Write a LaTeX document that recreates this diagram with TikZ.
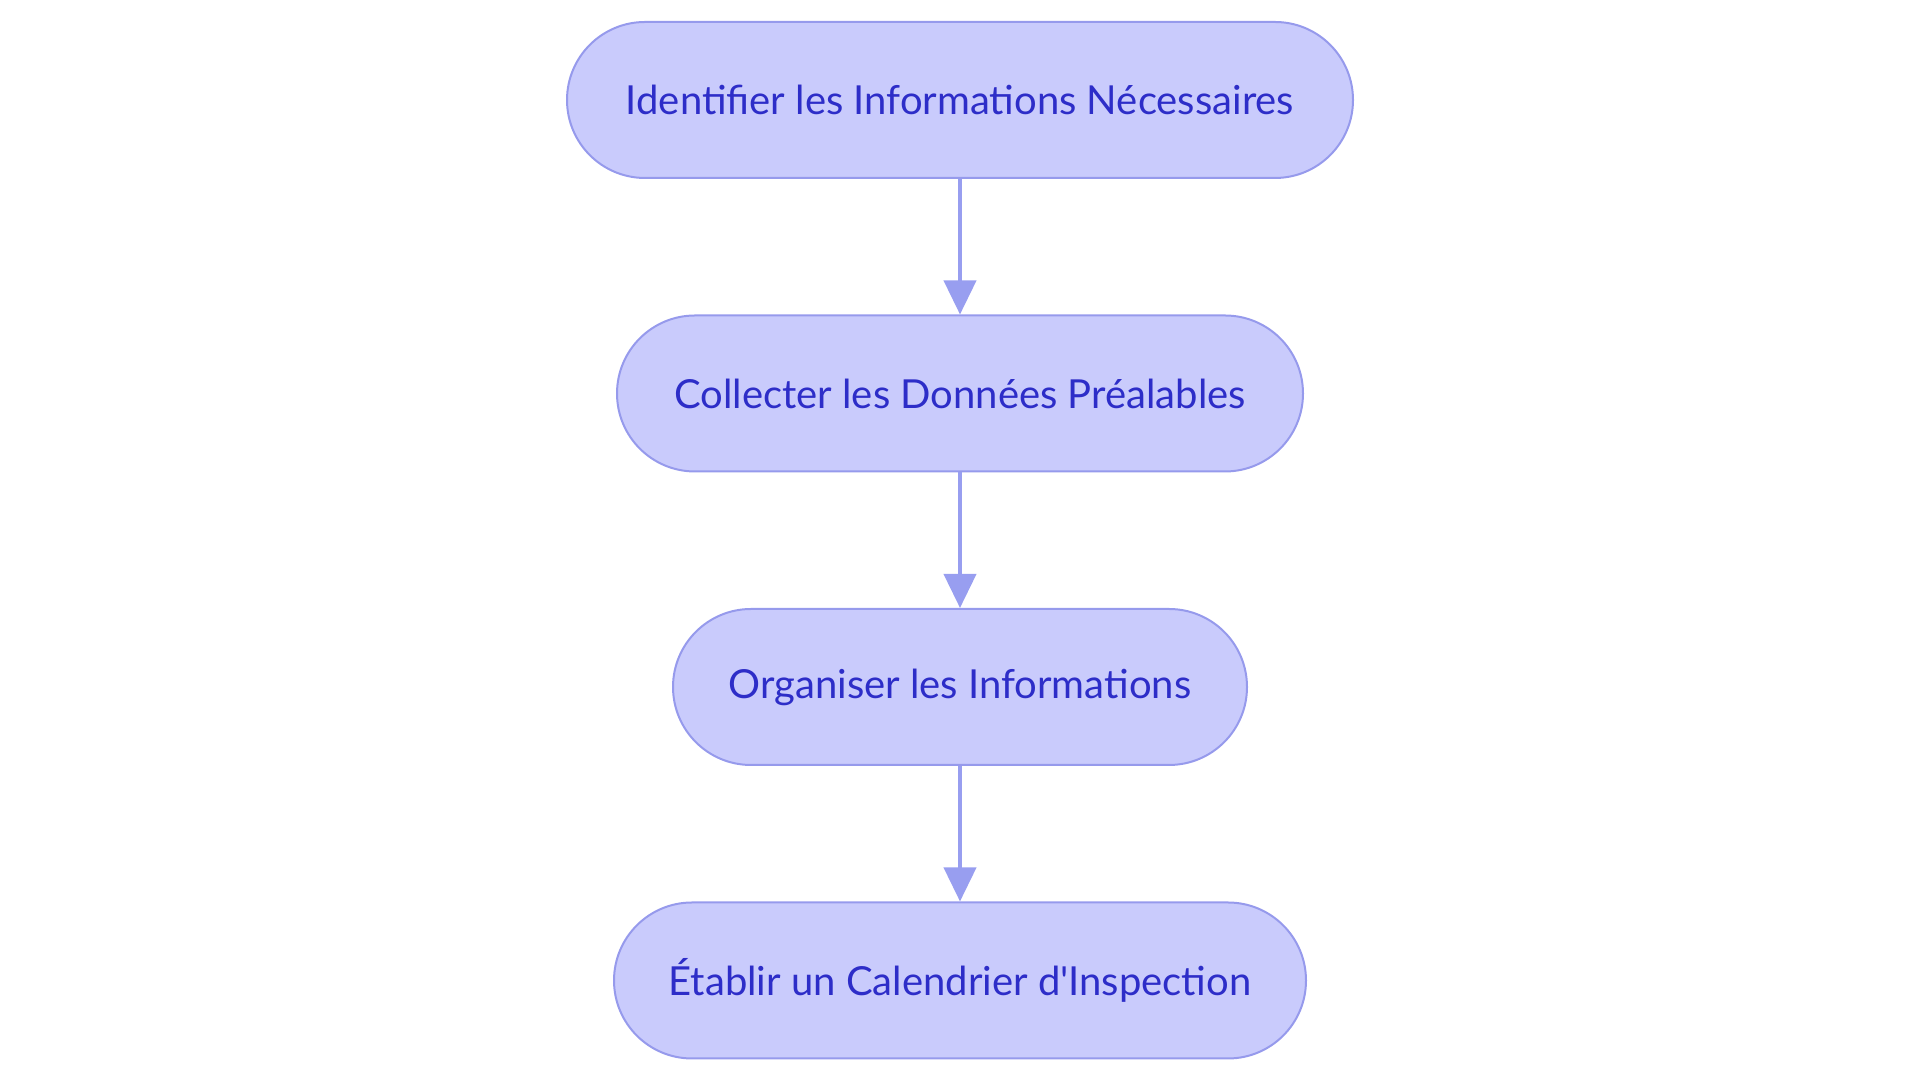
\documentclass[tikz,border=0pt]{standalone}
\usepackage{fontspec}
\newfontfamily\etapefont{Lato}
\usepackage{tikz}
\usetikzlibrary{positioning,arrows.meta}

\definecolor{boxfill}{RGB}{201,203,252}
\definecolor{boxline}{RGB}{150,154,236}
\definecolor{boxtext}{RGB}{45,45,200}
\definecolor{arrowcol}{RGB}{152,158,240}

\tikzset{
  etape/.style={draw=boxline, line width=2pt, fill=boxfill, text=boxtext,
    minimum height=156pt, rounded corners=78pt, inner sep=0pt,
    font=\etapefont\fontsize{40}{48}\selectfont},
  fleche/.style={draw=arrowcol, line width=4pt, -{Triangle[length=34pt,width=32pt]}}
}

\begin{document}
\begin{tikzpicture}[x=1pt, y=1pt, node distance=135.5pt]
  \useasboundingbox (0,0) rectangle (1920,1083);
  \node[etape, minimum width=786pt] (ident) at (960,983) {Identifier les Informations Nécessaires};
  \node[etape, minimum width=686pt, below=of ident] (collect) {Collecter les Données Préalables};
  \node[etape, minimum width=574pt, below=of collect] (organ) {Organiser les Informations};
  \node[etape, minimum width=692pt, below=of organ] (calend) {Établir un Calendrier d'Inspection};
  \draw[fleche] (ident) -- (collect);
  \draw[fleche] (collect) -- (organ);
  \draw[fleche] (organ) -- (calend);
\end{tikzpicture}
\end{document}
